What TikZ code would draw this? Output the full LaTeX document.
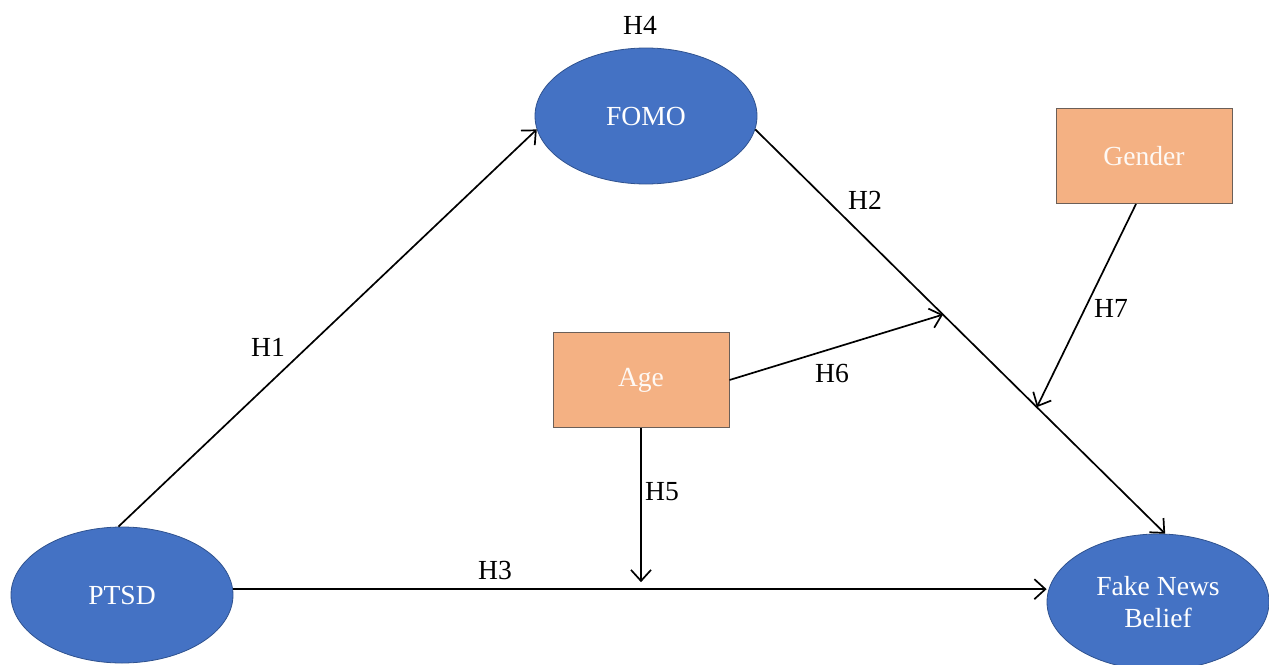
\documentclass[tikz,border=0pt]{standalone}
\usepackage{fontspec}
\setmainfont{Liberation Serif}
\usetikzlibrary{shapes.geometric,arrows.meta}
\definecolor{latblue}{HTML}{4472C4}
\definecolor{latedge}{HTML}{2F528F}
\definecolor{modfill}{HTML}{F4B183}
\definecolor{modedge}{HTML}{6B5F58}
\tikzset{
	latent/.style={ellipse,fill=latblue,draw=latedge,line width=0.4pt,text=white,
		minimum width=111pt,minimum height=68pt,inner sep=0pt,align=center},
	moder/.style={rectangle,fill=modfill,draw=modedge,line width=0.5pt,text=white!92!modfill,
		minimum width=88pt,minimum height=47.5pt,inner sep=0pt},
	hyp/.style={inner sep=1pt},
	path/.style={-{Straight Barb[length=5.5pt,width=10pt]},line width=0.85pt},
}
\begin{document}
\begin{tikzpicture}[x=0.5pt,y=-0.5pt,font=\fontsize{13.8}{15.8}\selectfont]
	\useasboundingbox (0,0) rectangle (1269,664);
	% constructs
	\node[latent] (fomo) at (646,116) {FOMO};
	\node[latent] (ptsd) at (122,595) {PTSD};
	\node[latent] (fnb) at (1158,602) {Fake News\\Belief};
	\node[moder] (age) at (641,380) {Age};
	\node[moder] (gender) at (1144,156) {Gender};
	% paths
	\draw[path] (ptsd.93) -- (fomo.187);
	\draw[path] (fomo.-7) -- coordinate[pos=0.458] (m6) coordinate[pos=0.687] (m7) (fnb.84);
	\draw[path] (ptsd.3) -- (ptsd.3 -| fnb.west);
	\coordinate (m5) at (age.south |- ptsd.3);
	\draw[path] (age.south) -- ([yshift=3.5pt]m5);
	\draw[path] (age.east) -- (m6);
	\draw[path] (gender.south) ++(-8,0) coordinate (gs) -- (m7);
	% labels
	\node[hyp] (h1) at (268,347) {H1};
	\node[hyp] (h2) at (865,200) {H2};
	\node[hyp] (h3) at (495,570) {H3};
	\node[hyp] (h4) at (640,25) {H4};
	\node[hyp] (h5) at (662,492) {H5};
	\node[hyp] (h6) at (832,373) {H6};
	\node[hyp] (h7) at (1111,308) {H7};
\end{tikzpicture}
\end{document}
